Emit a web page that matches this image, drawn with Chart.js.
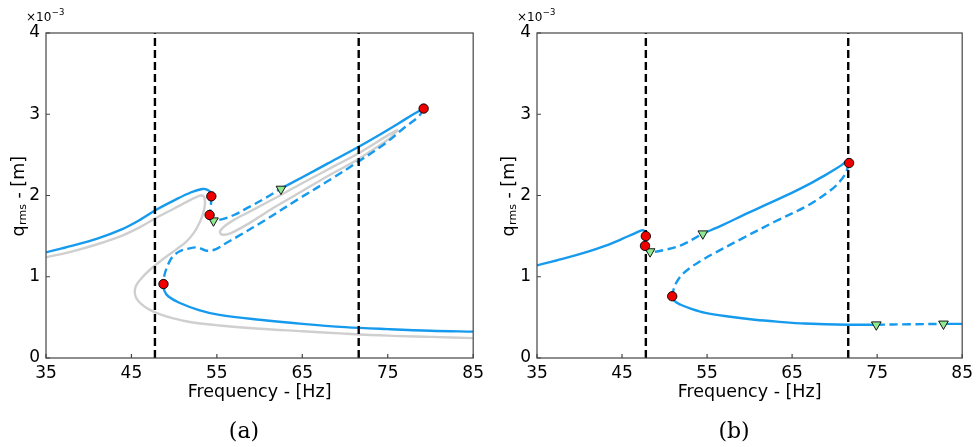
<!DOCTYPE html>
<html>
<head>
<meta charset="utf-8">
<script src="https://cdn.jsdelivr.net/npm/chart.js@4/dist/chart.umd.min.js"></script>
<style>
  body { margin: 0; background: #fff; }
  #wrap { position: relative; width: 978px; height: 447px; }
  canvas { position: absolute; top: 0; }
</style>
</head>
<body>
<div id="wrap">
  <canvas id="chartA" width="489" height="447" style="left:0px"></canvas>
  <canvas id="chartB" width="488" height="447" style="left:490px"></canvas>
</div>
<script>
// values in units of 1e-3 m
var freqTicks = [35, 45, 55, 65, 75, 85];
var ampTicks = [0, 1, 2, 3, 4];

// ---- (a) ----
var aSolidHiX = [35, 38, 41, 44, 46, 48, 50, 52, 53.3, 53.9, 54.25, 54.35];
var aSolidHiY = [1.30, 1.38, 1.47, 1.59, 1.70, 1.83, 1.94, 2.04, 2.08, 2.07, 2.04, 1.99];
var aDashJumpX = [54.35, 54.3, 54.15];
var aDashJumpY = [1.99, 1.88, 1.76];
var aDashMidX = [54.15, 54.4, 55.3, 57, 58.8, 60.7, 62.4];
var aDashMidY = [1.76, 1.70, 1.70, 1.76, 1.86, 1.97, 2.08];
var aSolidTopX = [62.4, 65, 68, 71.6, 74, 76.3, 78, 79.2];
var aSolidTopY = [2.08, 2.225, 2.395, 2.60, 2.745, 2.89, 3.0, 3.07];
var aDashLowX = [79.2, 78.6, 77.0, 74.7, 71.6, 68.5, 64.6, 60.7, 57.5, 56.0, 54.9, 53.8, 52.8, 51.8, 50.6, 49.7, 49.1, 48.8, 48.75];
var aDashLowY = [3.07, 2.97, 2.84, 2.64, 2.42, 2.21, 1.96, 1.70, 1.50, 1.41, 1.34, 1.32, 1.36, 1.35, 1.31, 1.23, 1.10, 0.99, 0.91];
var aSolidLowX = [48.75, 48.85, 49.3, 50.6, 52.9, 55.3, 60, 65, 70, 75, 80, 85];
var aSolidLowY = [0.91, 0.83, 0.76, 0.68, 0.59, 0.53, 0.47, 0.42, 0.38, 0.355, 0.335, 0.325];
var aGrayX = [35, 38, 41, 44, 46, 48, 50, 51.8, 52.6, 53.1, 53.45, 53.6, 53.55, 53.3, 52.9, 52.3, 51.4, 50.3, 49.1, 47.1, 46.0, 45.5, 45.4, 45.6, 46.2, 47.1, 48.3, 49.8, 52, 55.3, 60, 65, 70, 75, 80, 85];
var aGrayY = [1.24, 1.31, 1.40, 1.51, 1.61, 1.73, 1.84, 1.94, 1.98, 2.00, 1.99, 1.94, 1.85, 1.75, 1.65, 1.54, 1.43, 1.34, 1.25, 1.08, 0.96, 0.88, 0.80, 0.73, 0.66, 0.595, 0.54, 0.49, 0.44, 0.40, 0.36, 0.33, 0.30, 0.275, 0.26, 0.245];
var aIsolaX = [76.2, 75, 73, 71.6, 68, 64.6, 61.5, 58.8, 57, 56, 55.5, 55.35, 55.6, 56.5, 58.8, 61.5, 64.6, 68, 71.6, 73.5, 75.3, 76.2];
var aIsolaY = [2.81, 2.74, 2.61, 2.52, 2.32, 2.13, 1.95, 1.80, 1.70, 1.63, 1.58, 1.55, 1.52, 1.53, 1.66, 1.84, 2.03, 2.24, 2.45, 2.58, 2.71, 2.81];
var aFoldX = [54.35, 54.15, 79.2, 48.75];
var aFoldY = [1.99, 1.76, 3.07, 0.91];
var aNsX = [54.6, 62.5];
var aNsY = [1.69, 2.08];
var aLimitX = [47.75, 71.6];

// ---- (b) ----
var bSolidHiX = [35, 38, 41, 43, 45, 46.5, 47.3, 47.6, 47.8];
var bSolidHiY = [1.14, 1.22, 1.31, 1.38, 1.465, 1.535, 1.57, 1.565, 1.49];
var bDashJumpX = [47.8, 47.75, 47.7];
var bDashJumpY = [1.49, 1.43, 1.37];
var bDashMidX = [47.7, 47.9, 48.3, 50, 52, 54.5];
var bDashMidY = [1.37, 1.32, 1.30, 1.33, 1.39, 1.53];
var bSolidTopX = [54.5, 57, 59.5, 62, 64.9, 67, 68.8, 70, 70.9, 71.35, 71.7];
var bSolidTopY = [1.53, 1.645, 1.77, 1.89, 2.03, 2.14, 2.245, 2.32, 2.38, 2.415, 2.40];
var bDashLowX = [71.7, 71.5, 71.3, 70.5, 69.6, 66.9, 63.0, 59.1, 55.5, 54.2, 53.0, 52.0, 51.4, 51.05, 50.9];
var bDashLowY = [2.40, 2.33, 2.27, 2.16, 2.07, 1.88, 1.68, 1.47, 1.27, 1.19, 1.11, 1.02, 0.93, 0.84, 0.76];
var bSolidLowX = [50.9, 51.2, 51.9, 53, 54.8, 57.5, 60.6, 63.5, 66.5, 71.5, 74.9];
var bSolidLowY = [0.76, 0.70, 0.655, 0.61, 0.555, 0.51, 0.47, 0.445, 0.425, 0.41, 0.41];
var bDashTailX = [74.9, 78.8, 82.8];
var bDashTailY = [0.41, 0.415, 0.42];
var bSolidTailX = [82.8, 85];
var bSolidTailY = [0.42, 0.42];
var bFoldX = [47.8, 47.7, 71.7, 50.9];
var bFoldY = [1.50, 1.38, 2.40, 0.76];
var bNsX = [48.3, 54.5, 74.9, 82.8];
var bNsY = [1.31, 1.53, 0.41, 0.42];
var bLimitX = [47.8, 71.6];

var BLUE = '#169aee';
var GRAY = '#cfcfcf';
var FONT = "'DejaVu Sans', sans-serif";

function pts(xs, ys) {
    return xs.map(function(x, i) { return {x: x, y: ys[i]}; });
}

function curve(xs, ys, color, dashed) {
    return {
        data: pts(xs, ys),
        showLine: true,
        borderColor: color,
        borderWidth: 2.4,
        borderDash: dashed ? [8.5, 4.5] : [],
        pointRadius: 0,
        tension: 0.35,
        fill: false
    };
}

function vline(x) {
    return {
        data: [{x: x, y: 0}, {x: x, y: 4}],
        showLine: true,
        borderColor: '#000',
        borderWidth: 2.4,
        borderDash: [8, 4],
        pointRadius: 0
    };
}

function folds(xs, ys) {
    return {
        data: pts(xs, ys),
        showLine: false,
        pointRadius: 4.7,
        pointBackgroundColor: '#ee0000',
        pointBorderColor: '#000',
        pointBorderWidth: 0.9
    };
}

function nsPoints(xs, ys) {
    return {
        data: pts(xs, ys),
        showLine: false,
        pointStyle: 'triangle',
        rotation: 180,
        pointRadius: 5.6,
        pointBackgroundColor: '#90e890',
        pointBorderColor: '#000',
        pointBorderWidth: 0.9
    };
}

// frame, inward ticks, titles and caption
function framePlugin(caption) {
    return {
        id: 'frame',
        afterDraw: function(chart) {
            var ctx = chart.ctx, a = chart.chartArea;
            var xs = chart.scales.x, ys = chart.scales.y;
            ctx.save();
            ctx.strokeStyle = '#444';
            ctx.lineWidth = 1.2;
            ctx.setLineDash([]);
            ctx.strokeRect(a.left, a.top, a.right - a.left, a.bottom - a.top);
            ctx.beginPath();
            freqTicks.forEach(function(v) {
                var px = xs.getPixelForValue(v);
                ctx.moveTo(px, a.bottom);
                ctx.lineTo(px, a.bottom - 4);
            });
            ampTicks.forEach(function(v) {
                var py = ys.getPixelForValue(v);
                ctx.moveTo(a.left, py);
                ctx.lineTo(a.left + 4, py);
            });
            ctx.stroke();

            ctx.fillStyle = '#000';
            // x title
            ctx.font = '17.5px ' + FONT;
            ctx.textAlign = 'center';
            ctx.textBaseline = 'middle';
            ctx.fillText('Frequency - [Hz]', (a.left + a.right) / 2, 392);

            // y title with subscript
            ctx.save();
            ctx.translate(18, (a.top + a.bottom) / 2 + 1);
            ctx.rotate(-Math.PI / 2);
            ctx.textAlign = 'left';
            ctx.textBaseline = 'alphabetic';
            var big = '17.5px ' + FONT, small = '11px ' + FONT;
            ctx.font = big; var w1 = ctx.measureText('q').width;
            ctx.font = small; var w2 = ctx.measureText('rms').width;
            ctx.font = big; var w3 = ctx.measureText(' - [m]').width;
            var x0 = -(w1 + w2 + w3) / 2;
            ctx.font = big; ctx.fillText('q', x0, 6);
            ctx.font = small; ctx.fillText('rms', x0 + w1 + 0.5, 8);
            ctx.font = big; ctx.fillText(' - [m]', x0 + w1 + w2 + 0.5, 6);
            ctx.restore();

            // scale multiplier
            ctx.textAlign = 'left';
            ctx.textBaseline = 'alphabetic';
            ctx.font = '12px ' + FONT;
            ctx.fillText('\u00d710', a.left - 20, 21);
            var wm = ctx.measureText('\u00d710').width;
            ctx.font = '8.5px ' + FONT;
            ctx.fillText('\u22123', a.left - 20 + wm + 0.5, 15);

            // caption
            ctx.font = "22px 'DejaVu Serif', serif";
            ctx.textAlign = 'center';
            ctx.textBaseline = 'middle';
            ctx.fillText(caption, 244, 432);
            ctx.restore();
        }
    };
}

function makeChart(id, datasets, caption, yWidth, padRight) {
    return new Chart(document.getElementById(id), {
        type: 'scatter',
        data: { datasets: datasets },
        options: {
            responsive: false,
            animation: false,
            devicePixelRatio: 1,
            layout: { padding: { top: 33, right: padRight, left: 0, bottom: 0 } },
            plugins: { legend: { display: false }, tooltip: { enabled: false } },
            scales: {
                x: {
                    type: 'linear', min: 35, max: 85,
                    afterBuildTicks: function(s) { s.ticks = freqTicks.map(function(v) { return {value: v}; }); },
                    afterFit: function(s) { s.height = 89; },
                    grid: { display: false, drawTicks: false },
                    border: { display: false },
                    ticks: { color: '#000', padding: 5, maxRotation: 0, font: { family: FONT, size: 17 } }
                },
                y: {
                    type: 'linear', min: 0, max: 4,
                    afterBuildTicks: function(s) { s.ticks = ampTicks.map(function(v) { return {value: v}; }); },
                    afterFit: function(s) { s.width = yWidth; },
                    grid: { display: false, drawTicks: false },
                    border: { display: false },
                    ticks: { color: '#000', padding: 6, font: { family: FONT, size: 17 } }
                }
            }
        },
        plugins: [framePlugin(caption)]
    });
}

var dsA = [
    folds(aFoldX, aFoldY),
    nsPoints(aNsX, aNsY),
    vline(aLimitX[0]), vline(aLimitX[1]),
    curve(aSolidHiX, aSolidHiY, BLUE, false),
    curve(aDashJumpX, aDashJumpY, BLUE, true),
    curve(aDashMidX, aDashMidY, BLUE, true),
    curve(aSolidTopX, aSolidTopY, BLUE, false),
    curve(aDashLowX, aDashLowY, BLUE, true),
    curve(aSolidLowX, aSolidLowY, BLUE, false),
    curve(aGrayX, aGrayY, GRAY, false),
    curve(aIsolaX, aIsolaY, GRAY, false)
];

var dsB = [
    folds(bFoldX, bFoldY),
    nsPoints(bNsX, bNsY),
    vline(bLimitX[0]), vline(bLimitX[1]),
    curve(bSolidHiX, bSolidHiY, BLUE, false),
    curve(bDashJumpX, bDashJumpY, BLUE, true),
    curve(bDashMidX, bDashMidY, BLUE, true),
    curve(bSolidTopX, bSolidTopY, BLUE, false),
    curve(bDashLowX, bDashLowY, BLUE, true),
    curve(bSolidLowX, bSolidLowY, BLUE, false),
    curve(bDashTailX, bDashTailY, BLUE, true),
    curve(bSolidTailX, bSolidTailY, BLUE, false)
];

makeChart('chartA', dsA, '(a)', 46, 14);
makeChart('chartB', dsB, '(b)', 47, 12);
</script>
</body>
</html>
